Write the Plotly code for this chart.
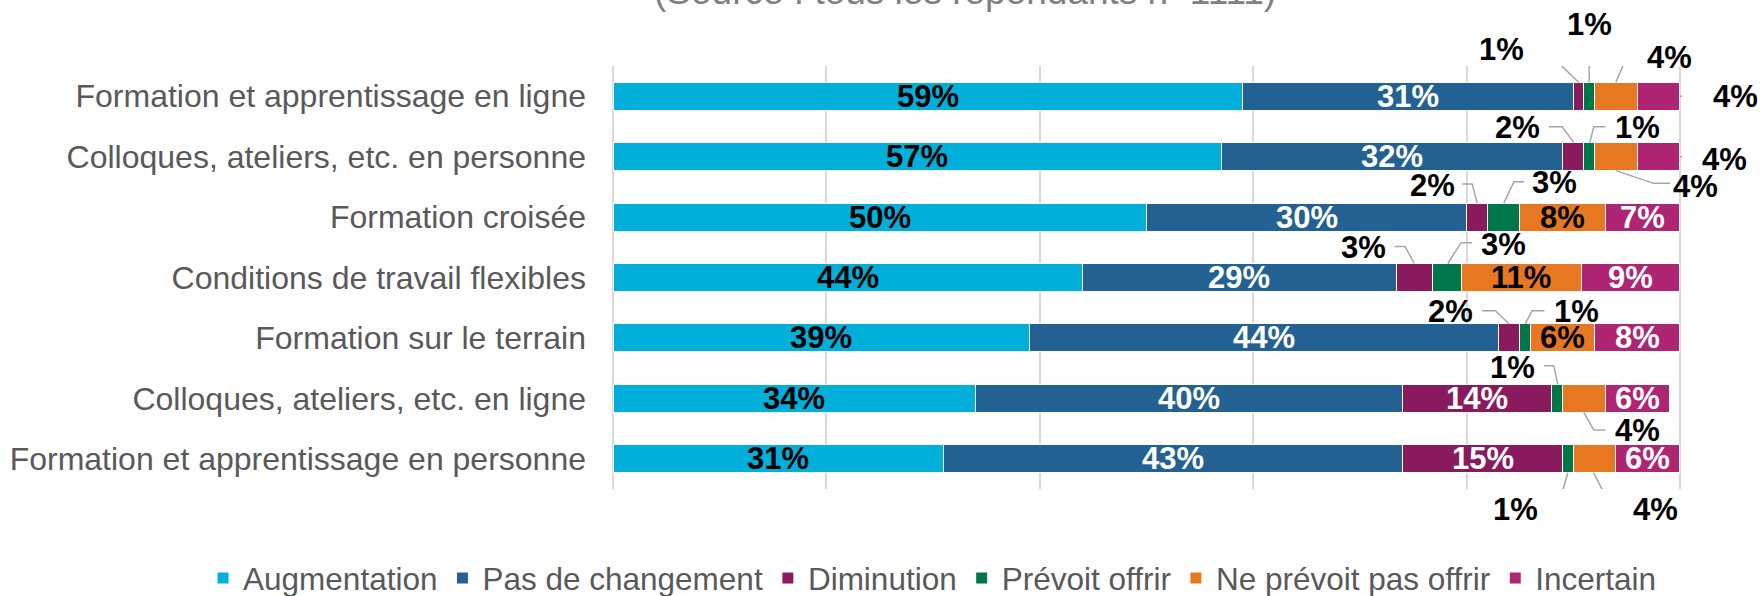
import plotly.graph_objects as go

categories = [
    "Formation et apprentissage en ligne",
    "Colloques, ateliers, etc. en personne",
    "Formation croisée",
    "Conditions de travail flexibles",
    "Formation sur le terrain",
    "Colloques, ateliers, etc. en ligne",
    "Formation et apprentissage en personne",
]
series_names = ["Augmentation", "Pas de changement", "Diminution",
                "Prévoit offrir", "Ne prévoit pas offrir", "Incertain"]
augmentation = [59, 57, 50, 44, 39, 34, 31]
pas_de_changement = [31, 32, 30, 29.4, 44, 40, 43]
diminution = [1, 2, 2, 3.4, 2, 14, 15]
prevoit_offrir = [1, 1, 3, 2.7, 1, 1, 1]
ne_prevoit_pas_offrir = [4, 4, 8, 11.3, 6, 4, 4]
incertain = [4, 4, 7, 9.2, 8, 6, 6]
series_values = [augmentation, pas_de_changement, diminution,
                 prevoit_offrir, ne_prevoit_pas_offrir, incertain]

colors = ["#00B0DA", "#236192", "#8A1A5E", "#00774A", "#E87722", "#AE2573"]
inside_text_colors = ["black", "white", "white", "white", "black", "white"]
FONT = "Arial, Liberation Sans, sans-serif"
LABEL_SIZE = 31

# callout placements (pixel offsets from segment centre / row centre, up = +)
callouts = {
    (0, 2): ((-76.6, 47.2), [(-45, 47.9), (-35, 47.9), (0, 14)]),
    (0, 3): ((0, 72), [(0, 59), (0, 14)]),
    (0, 4): ((53.5, 38.7), [(21, 39.5), (11, 39.5), (0, 14)]),
    (0, 5): ((77, 0), [(21.5, 0), (45, 0)]),
    (1, 2): ((-55.7, 29.1), [(-24.4, 29.9), (-11, 29.9), (0.6, 14)]),
    (1, 3): ((48.3, 29.1), [(16.3, 29.9), (4.6, 29.9), (0.6, 14)]),
    (1, 4): ((79.5, -29.4), [(0, -14), (37.8, -26.7), (54.5, -26.7)]),
    (1, 5): ((66.2, -2.4), [(21.5, 0), (34.8, 0)]),
    (2, 2): ((-44.7, 32), [(-15, 33), (-5, 33), (0, 14)]),
    (2, 3): ((50.8, 34.6), [(20.1, 35.4), (10.1, 35.4), (0, 14)]),
    (3, 2): ((-51.2, 30), [(-19.7, 31), (-9.2, 31), (0, 14)]),
    (3, 3): ((56.7, 33.5), [(25.4, 34.8), (14.4, 34.8), (1, 14)]),
    (4, 2): ((-58.3, 26.4), [(-27.1, 27.2), (-13.8, 27.2), (0, 14)]),
    (4, 3): ((51.3, 26.4), [(19.3, 27.2), (7, 27.2), (0, 14)]),
    (5, 3): ((-44.2, 30.9), [(-13.4, 32.7), (-3.4, 32.7), (0.6, 14)]),
    (5, 4): ((53.5, -32.1), [(0, -14), (9.8, -31.6), (21.5, -31.6)]),
    (6, 3): ((-52.5, -51.2), [(-22.5, -49.5), (-10.2, -49.5), (0, -14)]),
    (6, 4): ((61.2, -51.2), [(-1, -14), (17.4, -49.5), (30.7, -49.5)]),
}

rows = list(range(len(categories)))
fig = go.Figure()
for name, vals, col in zip(series_names, series_values, colors):
    fig.add_trace(go.Bar(
        y=rows, x=vals, name=name, orientation="h",
        marker=dict(color=col, line=dict(color="white", width=1)),
        width=0.465, textposition="none", hoverinfo="x+name",
    ))

annotations = []
shapes = []
cum = [0.0] * len(categories)
for s, vals in enumerate(series_values):
    for r, v in enumerate(vals):
        center = cum[r] + v / 2
        label = f"{round(v)}%"
        if round(v) >= 5:
            annotations.append(dict(
                x=center, y=r, xref="x", yref="y", text=label, showarrow=False,
                xanchor="center", yanchor="middle",
                font=dict(family=FONT, size=LABEL_SIZE, color=inside_text_colors[s], weight="bold"),
            ))
        elif (r, s) in callouts:
            (tdx, tdy), pts = callouts[(r, s)]
            annotations.append(dict(
                x=center, y=r, xref="x", yref="y", text=label, showarrow=False,
                xanchor="center", yanchor="middle", xshift=tdx, yshift=tdy,
                font=dict(family=FONT, size=LABEL_SIZE, color="black", weight="bold"),
            ))
            path = "M" + " L".join(f"{px},{py}" for px, py in pts)
            shapes.append(dict(
                type="path", xref="x", yref="y", xsizemode="pixel", ysizemode="pixel",
                xanchor=center, yanchor=r, path=path,
                line=dict(color="#A6A6A6", width=1.5), layer="above",
            ))
        cum[r] += v

annotations.append(dict(
    x=0.3308, y=1.1773, xref="paper", yref="paper",
    text="(Source : tous les répondants n=1111)", showarrow=False,
    xanchor="center", yanchor="middle",
    font=dict(family=FONT, size=37, color="#808080"),
))

fig.update_layout(
    width=1760, height=596,
    barmode="stack",
    template="none",
    paper_bgcolor="white", plot_bgcolor="white",
    margin=dict(l=610.9, r=77.8, t=66, b=107, autoexpand=False),
    font=dict(family=FONT, color="#595959"),
    xaxis=dict(range=[-0.2, 100.2], tickvals=[0, 20, 40, 60, 80, 100], showticklabels=False,
               showgrid=True, gridcolor="#D9D9D9", gridwidth=1.5, zeroline=False,
               showline=False, ticks=""),
    yaxis=dict(range=[6.5, -0.5], tickvals=rows, ticktext=categories,
               showgrid=False, zeroline=False, showline=False, ticks="",
               tickfont=dict(family=FONT, size=32, color="#595959"),
               ticklabelstandoff=24),
    legend=dict(orientation="h", xref="paper", yref="paper",
                x=-0.3809, xanchor="left", y=-0.2105, yanchor="middle",
                font=dict(family=FONT, size=31.5, color="#595959"), traceorder="normal",
                itemwidth=30, bgcolor="rgba(0,0,0,0)"),
    annotations=annotations,
    shapes=shapes,
    showlegend=True,
)

fig.write_html("out.html", config={"displayModeBar": False},
               post_script="document.body.style.margin='0px';")
